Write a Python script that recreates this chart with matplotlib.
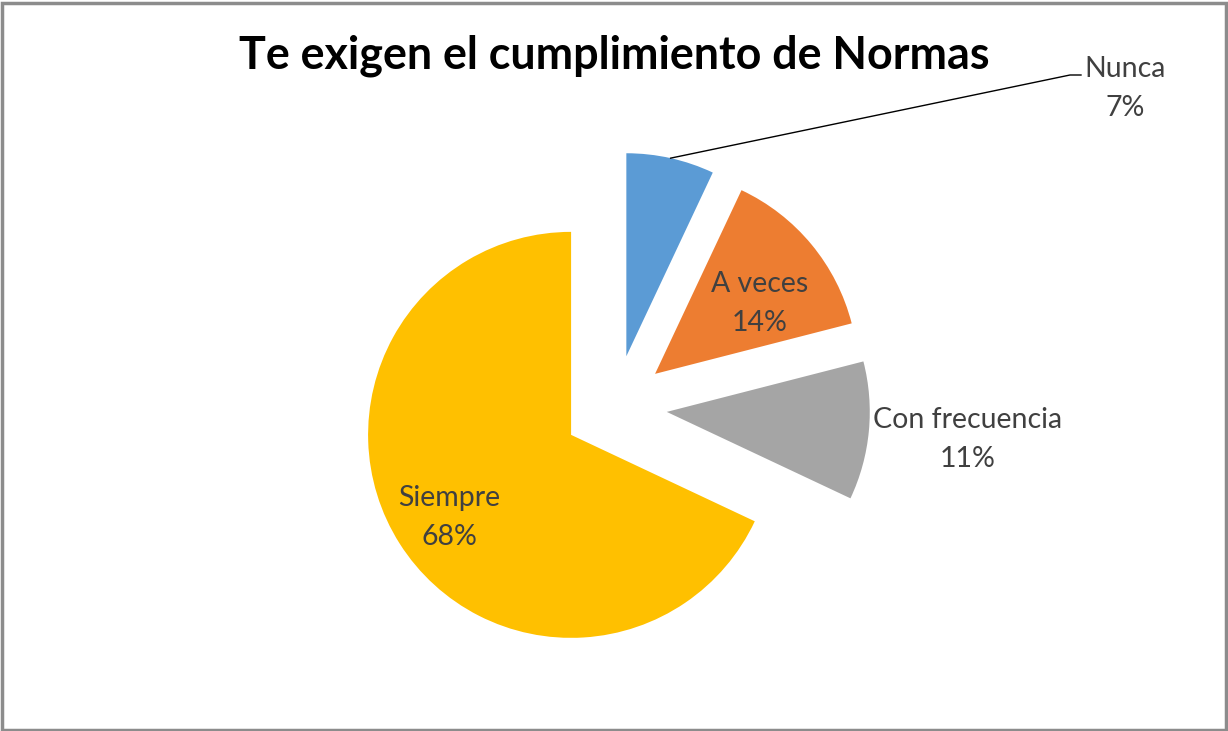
import numpy as np
import matplotlib.pyplot as plt

# datos del grafico
categorias = ["Nunca", "A veces", "Con frecuencia", "Siempre"]
porcentajes = [7, 14, 11, 68]
colores = ["#5B9BD5", "#ED7D31", "#A5A5A5", "#FFC000"]
titulo = "Te exigen el cumplimiento de Normas"

W, H = 1228, 731
plt.rcParams['font.family'] = ['Lato', 'DejaVu Sans']

fig = plt.figure(figsize=(W / 100, H / 100), dpi=100)
ax = fig.add_axes([0, 0, 1, 1])

radio = 203
centro = (615, H - 407)
wedges, _ = ax.pie(porcentajes, colors=colores, startangle=90, counterclock=False,
                   radius=radio, center=centro, explode=[52] * 4,
                   wedgeprops=dict(linewidth=0), frame=True)
ax.set_xlim(0, W)
ax.set_ylim(0, H)
ax.set_aspect('auto')
ax.axis('off')

# borde del area del grafico
ax.add_patch(plt.Rectangle((1.5, 1.5), W - 4, H - 4, fill=False,
                           edgecolor='#8c8c8c', linewidth=2.5))

# desplazamiento (px) de cada etiqueta respecto al vertice de su porcion
offs = [(499, 268), (105, 70), (301, -28), (-122, -83)]
for i, (w, cat, p, (dx, dy)) in enumerate(zip(wedges, categorias, porcentajes, offs)):
    cx, cy = w.center
    ax.text(cx + dx, cy + dy, f"{cat}\n{p}%", ha='center', va='center',
            fontsize=20.5, color='#404040', linespacing=1.62)
    if i == 0:
        # linea guia desde el borde de la porcion
        ang = np.deg2rad((w.theta1 + w.theta2) / 2)
        x0 = cx + radio * np.cos(ang)
        y0 = cy + radio * np.sin(ang)
        ax.plot([x0, 1070, 1081], [y0, H - 75, H - 75], color='black', lw=1)

ax.text(614, H - 56, titulo, ha='center', va='center', fontsize=32.3,
        fontweight='bold', color='black')

fig.savefig('out.png', dpi=100)
